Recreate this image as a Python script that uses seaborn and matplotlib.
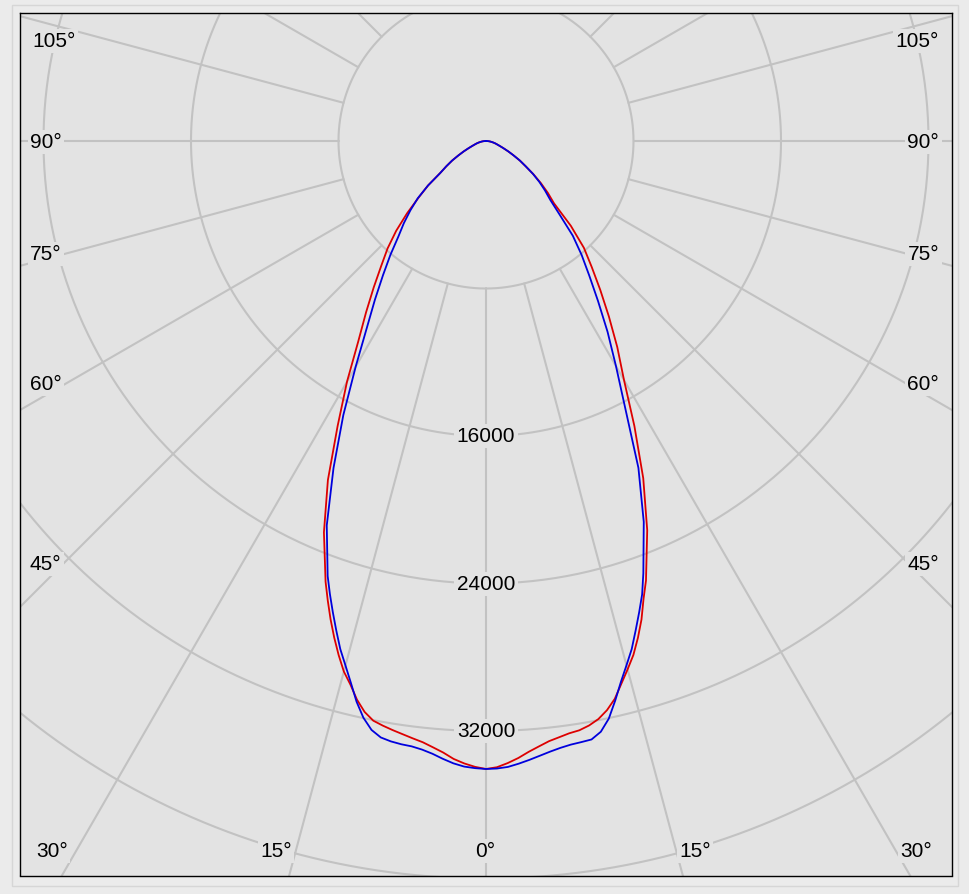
#!/usr/bin/env python3
import numpy as np
import seaborn as sns
import matplotlib.pyplot as plt
from matplotlib.patches import Rectangle

# === Data: luminous intensity (cd) vs. gamma angle, two C-planes ===
angles = [0, 1, 2, 3, 4, 5, 6, 7, 8, 9, 10, 11, 12, 13, 14, 15, 16, 17, 18,
          19, 20, 22.5, 25, 27.5, 30, 32.5, 35, 37.5, 40, 42.5, 45, 47.5, 50,
          52.5, 55, 57.5, 60, 62.5, 65, 67.5, 70, 72.5, 75, 77.5, 80, 82.5,
          85, 87.5, 90]

red_left = [34060, 33950, 33780, 33560, 33250, 33010, 32790, 32640, 32490,
            32350, 32200, 32030, 31660, 31100, 30390, 29790, 29000, 28160,
            27280, 26360, 25440,
            22970, 20290, 17430, 15080, 12900, 11340, 10000, 8840, 7900,
            6890, 5810, 4770, 3960, 3040, 2550, 2120, 1680, 1330, 1030, 810,
            650, 540, 430, 330, 240, 160, 80, 0]
red_right = [34060, 33970, 33760, 33510, 33210, 32960, 32730, 32580, 32440,
             32360, 32190, 31940, 31560, 31050, 30340, 29670, 29000, 28180,
             27290, 26250, 25370,
             22850, 20180, 17430, 14970, 13250, 11620, 10180, 8920, 7860,
             6510, 5000, 4380, 3750, 3130, 2550, 2120, 1680, 1330, 1030, 810,
             650, 540, 430, 330, 240, 160, 80, 0]
blue_left = [34060, 34020, 33950, 33800, 33590, 33360, 33190, 33080, 33040,
             32970, 32850, 32540, 31980, 31210, 30290, 29450, 28670, 27770,
             26880, 26000, 25110,
             22570, 19570, 16760, 14140, 12040, 10500, 9180, 8070, 7040,
             6300, 5560, 4830, 3960, 3040, 2550, 2120, 1680, 1330, 1030, 810,
             650, 540, 430, 330, 240, 160, 80, 0]
blue_right = [34060, 34040, 33970, 33820, 33650, 33470, 33300, 33160, 33060,
              33010, 32960, 32640, 32030, 31150, 30240, 29440, 28670, 27760,
              26880, 26010, 24950,
              22360, 19560, 16370, 14100, 12270, 10590, 9200, 8070, 6970,
              5650, 4730, 4180, 3650, 3110, 2550, 2120, 1680, 1330, 1030, 810,
              650, 540, 430, 330, 240, 160, 80, 0]

ring_values = [8000, 16000, 24000, 32000, 40000, 48000]
ring_labels = [16000, 24000, 32000]
spoke_angles = list(range(0, 360, 15))

# angle labels: (text, pixel x, pixel y, alignment)
angle_labels = [
    ("105°", 32, 42, "left"), ("90°", 30, 143, "left"), ("75°", 30, 255, "left"),
    ("60°", 30, 385, "left"), ("45°", 30, 565, "left"), ("30°", 52, 852, "center"),
    ("15°", 276, 852, "center"), ("0°", 485, 852, "center"),
    ("15°", 695, 852, "center"), ("30°", 916, 852, "center"),
    ("45°", 939, 565, "right"), ("60°", 939, 385, "right"),
    ("75°", 939, 255, "right"), ("90°", 939, 143, "right"),
    ("105°", 939, 42, "right"),
]

# === Layout (pixels) ===
W, H = 969, 895
CX, CY = 486, 142            # pole position in pixels
CD_PER_PX = 8000 / 147.5
FRAME = (19.5, 14, 951.5, 876.5)  # left, top, right, bottom
BG_IN = "#e3e3e3"
BG_OUT = "#ebebeb"
GRID = "#c2c2c2"


def px_to_data(px, py):
    return (px - CX) * CD_PER_PX, (CY - py) * CD_PER_PX


def polar_xy(theta_deg, r):
    t = np.radians(np.asarray(theta_deg, dtype=float))
    r = np.asarray(r, dtype=float)
    return r * np.sin(t), -r * np.cos(t)


def main():
    sns.set_theme(style="white")
    plt.rcParams["font.family"] = ["Liberation Sans", "DejaVu Sans"]

    fig = plt.figure(figsize=(W / 100, H / 100), dpi=100, facecolor=BG_OUT)
    fig.patches.append(Rectangle((12 / W, 1 - 887 / H), (958 - 12) / W, (887 - 6) / H,
                                 transform=fig.transFigure, fill=False,
                                 ec="#d6d6d6", lw=1.0))
    l, t, r, b = FRAME
    ax = fig.add_axes([l / W, 1 - b / H, (r - l) / W, (b - t) / H])
    ax.set_facecolor(BG_IN)
    x0, y1 = px_to_data(l, t)
    x1, y0 = px_to_data(r, b)
    ax.set_xlim(x0, x1)
    ax.set_ylim(y0, y1)
    ax.set_xticks([])
    ax.set_yticks([])
    for sp in ax.spines.values():
        sp.set_color("black")
        sp.set_linewidth(1.0)

    # --- grid rings and spokes ---
    circ = np.linspace(0, 360, 721)
    for rv in ring_values:
        gx, gy = polar_xy(circ, np.full_like(circ, rv))
        ax.plot(gx, gy, color=GRID, lw=1.5, zorder=1)
    for a in spoke_angles:
        sx, sy = polar_xy([a, a], [ring_values[0], 60000])
        ax.plot(sx, sy, color=GRID, lw=1.5, zorder=1)

    # --- intensity curves (left half mirrored to negative angles) ---
    theta = [-a for a in angles[::-1]] + angles[1:]
    for left, right, col in [(red_left, red_right, "#dd0000"),
                             (blue_left, blue_right, "#0000dd")]:
        vals = left[::-1] + right[1:]
        cx, cy = polar_xy(theta, vals)
        sns.lineplot(x=cx, y=cy, sort=False, estimator=None, color=col,
                     lw=1.3, ax=ax, zorder=3)

    box = dict(boxstyle="square,pad=0.12", fc=BG_IN, ec="none")
    for rv in ring_labels:
        lx, ly = polar_xy(0, rv)
        ax.text(lx, ly, f"{rv}", ha="center", va="center", fontsize=15,
                color="black", bbox=box, zorder=4)
    for txt, px, py, ha in angle_labels:
        lx, ly = px_to_data(px, py)
        ax.text(lx, ly, txt, ha=ha, va="center", fontsize=15,
                color="black", bbox=box, zorder=4)

    fig.savefig("out.png", dpi=100, facecolor=BG_OUT)
    plt.close(fig)


if __name__ == "__main__":
    main()
